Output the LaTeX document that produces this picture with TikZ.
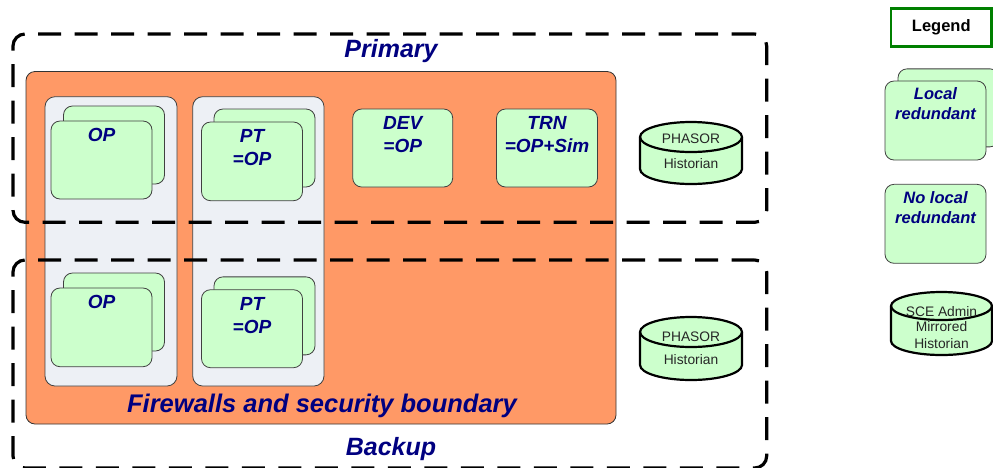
\documentclass[tikz,border=0pt]{standalone}
\usepackage{fontspec}
\setmainfont{Liberation Sans}
\definecolor{orangefill}{HTML}{FF9966}
\definecolor{colfill}{HTML}{EDF0F5}
\definecolor{cardfill}{HTML}{CCFFCC}
\definecolor{navytext}{HTML}{000080}
\definecolor{legendgreen}{HTML}{008000}
\begin{document}
\begin{tikzpicture}[x=1pt,y=-1pt,
  dashbox/.style={draw=black, line width=3.2pt, dash pattern=on 23pt off 13.5pt, rounded corners=12pt, inner sep=0pt},
  orangebox/.style={draw=black!80, fill=orangefill, line width=0.8pt, rounded corners=9pt, inner sep=0pt},
  column/.style={draw=black!75, fill=colfill, line width=0.8pt, rounded corners=10pt, inner sep=0pt, minimum width=132pt, minimum height=289.3pt},
  card/.style={draw=black!75, fill=cardfill, line width=0.8pt, rounded corners=9pt, inner sep=0pt, minimum width=101pt, minimum height=78pt},
  cardlbl/.style={font=\fontsize{19}{23}\selectfont\bfseries\itshape, text=navytext, align=center, inner sep=0pt, anchor=north},
  leglbl/.style={font=\fontsize{16.5}{20}\selectfont\bfseries\itshape, text=navytext, align=center, inner sep=0pt, anchor=north},
  biglbl/.style={font=\fontsize{25}{29}\selectfont\bfseries\itshape, text=navytext, inner sep=0pt},
  cyl/.style={draw=black, line width=2.2pt, fill=cardfill},
  cyltxt/.style={font=\fontsize{13.8}{16}\selectfont, text=black!85, inner sep=0pt}
]
\useasboundingbox (0,0) rectangle (993,467);

% firewall boundary and columns
\node[orangebox, minimum width=590pt, minimum height=352.5pt] (fw) at (321,247.75) {};
\node[column] (col1) at (111,241.35) {};
\node[column, minimum width=131.3pt] (col2) at (258.35,241.35) {};

% primary / backup dashed boundaries
\node[dashbox, minimum width=753.7pt, minimum height=188.3pt] (primary) at (389.85,128.15) {};
\node[dashbox, minimum width=753.7pt, minimum height=208pt] (backup) at (389.85,364) {};
\node[biglbl] (primarylbl) at (391,51) {Primary};
\node[biglbl] (backuplbl) at (391,449) {Backup};
\node[biglbl, font=\fontsize{25.5}{29}\selectfont\bfseries\itshape] (fwlbl) at (322,406) {Firewalls and security boundary};

% primary cards
\node[card] (op1b) at (114,145) {};
\node[card] (op1f) at (101.5,160) {};
\node[cardlbl] (op1t) at ([yshift=-7pt]op1f.north) {OP};
\node[card] (pt1b) at (264.5,148) {};
\node[card, minimum height=78.7pt] (pt1f) at (252,161.35) {};
\node[cardlbl] (pt1t) at ([yshift=-8pt]pt1f.north) {PT\\=OP};
\node[card, minimum width=100pt] (dev) at (402.7,148) {};
\node[cardlbl] (devt) at ([yshift=-7.5pt]dev.north) {DEV\\=OP};
\node[card] (trn) at (547,148) {};
\node[cardlbl] (trnt) at ([yshift=-7.5pt]trn.north) {TRN\\=OP+Sim};

% backup cards
\node[card] (op2b) at (114,312) {};
\node[card, minimum height=78.7pt] (op2f) at (101.5,327.35) {};
\node[cardlbl] (op2t) at ([yshift=-7pt]op2f.north) {OP};
\node[card] (pt2b) at (264.5,315.85) {};
\node[card] (pt2f) at (252,328.7) {};
\node[cardlbl] (pt2t) at ([yshift=-8pt]pt2f.north) {PT\\=OP};

% historians
\filldraw[cyl] (640,137) -- (640,169) arc[start angle=180, end angle=360, x radius=51pt, y radius=15pt] -- (742,137) arc[start angle=0, end angle=180, x radius=51pt, y radius=15pt] -- cycle;
\draw[cyl, fill=none] (640,137) arc[start angle=180, end angle=360, x radius=51pt, y radius=15pt];
\node[cyltxt] (h1a) at (691,139) {PHASOR};
\node[cyltxt] (h1b) at (691,164) {Historian};

\filldraw[cyl] (640,332) -- (640,365) arc[start angle=180, end angle=360, x radius=51pt, y radius=15pt] -- (742,332) arc[start angle=0, end angle=180, x radius=51pt, y radius=15pt] -- cycle;
\draw[cyl, fill=none] (640,332) arc[start angle=180, end angle=360, x radius=51pt, y radius=15pt];
\node[cyltxt] (h2a) at (691,336.7) {PHASOR};
\node[cyltxt] (h2b) at (691,360) {Historian};

% legend
\node[draw=legendgreen, line width=2.2pt, minimum width=100.5pt, minimum height=38pt, inner sep=0pt,
      font=\fontsize{16.5}{20}\selectfont\bfseries] (legend) at (941.25,27.5) {Legend};
\node[card] (locb) at (948.5,107.85) {};
\node[card, minimum height=79pt] (locf) at (935.5,120.5) {};
\node[leglbl] (loct) at ([yshift=-7pt]locf.north) {Local\\redundant};
\node[card, minimum height=79pt] (noloc) at (935.5,223.8) {};
\node[leglbl] (noloct) at ([yshift=-7pt]noloc.north) {No local\\redundant};

\filldraw[cyl] (891,306) -- (891,341) arc[start angle=180, end angle=360, x radius=50.5pt, y radius=14pt] -- (992,306) arc[start angle=0, end angle=180, x radius=50.5pt, y radius=14pt] -- cycle;
\draw[cyl, fill=none] (891,306) arc[start angle=180, end angle=360, x radius=50.5pt, y radius=14pt];
\node[cyltxt] (sce1) at (941.5,311.7) {SCE Admin};
\node[cyltxt] (sce2) at (941.5,327) {Mirrored};
\node[cyltxt] (sce3) at (941.5,343.3) {Historian};
\end{tikzpicture}
\end{document}
